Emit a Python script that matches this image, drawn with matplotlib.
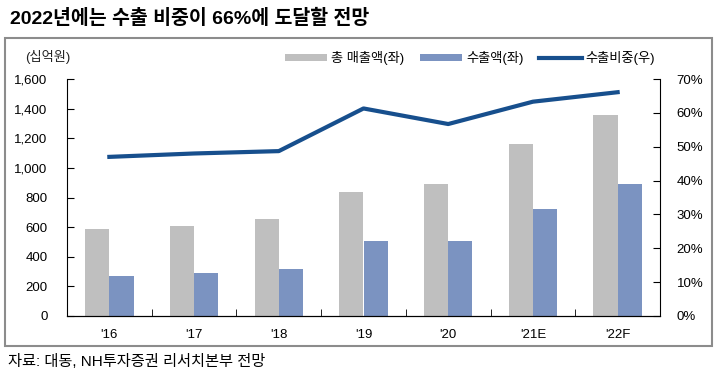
import matplotlib
matplotlib.use('Agg')
import matplotlib.pyplot as plt
import matplotlib.patches as mpatches
import numpy as np

plt.rcParams['font.family'] = ['Liberation Sans', 'Noto Sans CJK KR', 'DejaVu Sans']

# 데이터
years = ["'16", "'17", "'18", "'19", "'20", "'21E", "'22F"]
total_sales = [586, 610, 655, 838, 892, 1160, 1358]   # 총 매출액(좌), 십억원
export_sales = [270, 293, 315, 507, 505, 725, 894]    # 수출액(좌)
export_ratio = [47.0, 48.0, 48.7, 61.3, 56.7, 63.3, 66.1]  # 수출비중(우), %

grayColor = '#BFBFBF'
blueColor = '#7B93C1'
lineColor = '#174F8D'

fig = plt.figure(figsize=(7.2, 3.79), dpi=100)

# 바깥 테두리
fig.patches.append(mpatches.Rectangle((5/720, 1-346/379), 707/720, 308/379,
                                      transform=fig.transFigure, fill=False,
                                      edgecolor='#8C8C8C', linewidth=1.5))

ax = fig.add_axes([67/720, 1-316/379, 593/720, 237/379])
x = np.arange(len(years))
w = 0.285
ax.bar(x - w/2, total_sales, w, color=grayColor, label='총 매출액(좌)')
ax.bar(x + w/2, export_sales, w, color=blueColor, label='수출액(좌)')
ax.set_xlim(-0.5, len(years) - 0.5)
ax.set_ylim(0, 1600)
ax.set_yticks(range(0, 1601, 200))
ax.set_yticklabels(['{:,}'.format(v) for v in range(0, 1601, 200)])
ax.set_xticks(x)
ax.set_xticklabels(years)
ax.set_xticks(np.arange(0.5, len(years) - 1, 1), minor=True)
ax.tick_params(axis='x', which='major', length=0, pad=9, labelsize=9.5)
ax.tick_params(axis='x', which='minor', direction='in', length=5)
ax.tick_params(axis='y', direction='in', length=5, labelsize=9.5, pad=14)
ax.spines['top'].set_visible(False)
ax.spines['right'].set_visible(False)

ax2 = ax.twinx()
ax2.plot(x, export_ratio, color=lineColor, linewidth=3, label='수출비중(우)')
ax2.set_ylim(0, 70)
ax2.set_yticks(range(0, 71, 10))
ax2.set_yticklabels(['{}%'.format(v) for v in range(0, 71, 10)])
ax2.tick_params(axis='y', direction='in', length=5, labelsize=9.5, pad=12)
ax2.spines['top'].set_visible(False)
ax2.spines['left'].set_visible(False)

fig.text(25/720, 1-57/379, '(십억원)', fontsize=9.5, va='center', ha='left', color='#222222')

h1, l1 = ax.get_legend_handles_labels()
h2, l2 = ax2.get_legend_handles_labels()
fig.legend(h1 + h2, l1 + l2, loc='center', bbox_to_anchor=(470/720, 1-58/379), ncol=3,
           frameon=False, fontsize=9.5, handlelength=3.2, handleheight=0.5,
           columnspacing=1.2, handletextpad=0.3)

fig.text(10/720, 1-18/379, '2022년에는 수출 비중이 66%에 도달할 전망', fontsize=14,
         fontweight='bold', va='center', ha='left')
fig.text(8/720, 1-362/379, '자료: 대동, NH투자증권 리서치본부 전망', fontsize=11,
         va='center', ha='left')

plt.savefig('out.png', dpi=100)
